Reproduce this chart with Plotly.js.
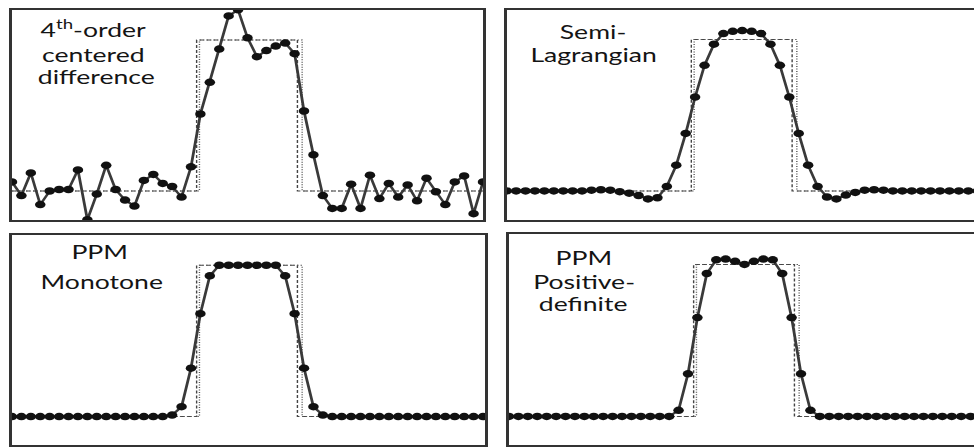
<!DOCTYPE html>
<html>
<head>
<meta charset="utf-8">
<script src="https://cdn.plot.ly/plotly-3.0.1.min.js"></script>
<style>
  html, body { margin: 0; padding: 0; background: #ffffff; overflow: hidden; }
  #wrap { width: 974px; height: 447px; overflow: hidden; }
  #chart { width: 696px; height: 447px; transform: scaleX(1.39943); transform-origin: 0 0; }
</style>
</head>
<body>
<div id="wrap"><div id="chart"></div></div>
<script>
// grid point index
const gridX = [0,1,2,3,4,5,6,7,8,9,10,11,12,13,14,15,16,17,18,19,20,21,22,23,24,25,26,27,28,29,30,31,32,33,34,35,36,37,38,39,40,41,42,43,44,45,46,47,48,49,50];

// 4th-order centered difference
const fourthOrder = [0.06,-0.03,0.12,-0.09,0.0,0.01,0.01,0.14,-0.19,-0.02,0.17,0.01,-0.06,-0.10,0.07,0.11,0.05,0.03,-0.04,0.16,
  0.51,0.72,0.94,1.16,1.20,1.015,0.89,0.93,0.96,0.98,0.91,0.53,0.24,-0.03,
  -0.115,-0.115,0.045,-0.115,0.105,-0.05,0.05,-0.04,0.04,-0.065,0.085,-0.005,-0.09,0.06,0.10,-0.15,0.06];

// Semi-Lagrangian
const semiLagrangian = [0,0,0,0,0,0,0,0,0,0.005,0.008,0.005,-0.005,-0.015,-0.03,-0.053,-0.045,0.03,0.17,0.38,
  0.62,0.83,0.97,1.04,1.055,1.06,1.055,1.04,0.97,0.83,0.62,0.38,0.17,0.03,-0.04,-0.053,-0.027,-0.01,0.005,0.008,
  0.005,0,0,0,0,0,0,0,0,0,0];

// PPM monotone
const ppmMonotone = [0,0,0,0,0,0,0,0,0,0,0,0,0,0,0,0,0,0.01,0.065,0.32,
  0.68,0.93,1.0,1.0,1.0,1.0,1.0,1.0,1.0,0.93,0.68,0.32,0.065,0.01,0,0,0,0,0,0,
  0,0,0,0,0,0,0,0,0,0,0];

// PPM positive-definite
const ppmPositive = [0,0,0,0,0,0,0,0,0,0,0,0,0,0,0,0,0,0,0.04,0.28,
  0.65,0.94,1.03,1.035,1.02,1.0,1.02,1.035,1.03,0.94,0.65,0.28,0.04,0,0,0,0,0,0,0,
  0,0,0,0,0,0,0,0,0,0,0];

// exact square wave (two renderings: dashed and dotted)
const stepXDashed = [0,19.6,19.6,30.3,30.3,50];
const stepXDotted = [0,19.9,19.9,30.8,30.8,50];
const stepY = [0,0,1,1,0,0];

const panelSeries = [fourthOrder, semiLagrangian, ppmMonotone, ppmPositive];

const W = 974, H = 447;
const px = v => v / W;
const py = v => 1 - v / H;

// panel boxes in pixels [left, right, top, bottom]
const boxes = [
  [12, 483, 10, 220],
  [506.7, 974, 9.5, 220],
  [12, 485, 235, 445],
  [509, 974, 234, 445]
];
const spacing = 9.42;
const yRanges = [[-0.192, 1.199],[-0.192, 1.199],[-0.188, 1.2],[-0.188, 1.2]];
const fullBox = [true, false, true, false];

const traces = [];
const layout = {
  width: 696, height: 447,
  margin: {l:0, r:0, t:0, b:0},
  paper_bgcolor: '#ffffff', plot_bgcolor: 'rgba(0,0,0,0)',
  showlegend: false,
  font: {family: 'Lato, "Open Sans", sans-serif', color: '#141414'},
  annotations: []
};

panelSeries.forEach((vals, k) => {
  const n = k + 1;
  const xa = 'x' + (n === 1 ? '' : n), ya = 'y' + (n === 1 ? '' : n);
  const b = boxes[k];
  traces.push({x: stepXDashed, y: stepY, xaxis: xa, yaxis: ya, mode: 'lines',
    line: {color: '#444', width: 1, dash: '3px,2px'}, hoverinfo: 'skip'});
  traces.push({x: stepXDotted, y: stepY, xaxis: xa, yaxis: ya, mode: 'lines',
    line: {color: '#555', width: 1, dash: '1px,1.5px'}, hoverinfo: 'skip'});
  traces.push({x: gridX, y: vals, xaxis: xa, yaxis: ya, mode: 'lines+markers',
    line: {color: '#3a3a3a', width: 2},
    marker: {color: '#111', size: 7.5}});
  const xkey = 'xaxis' + (n === 1 ? '' : n), ykey = 'yaxis' + (n === 1 ? '' : n);
  layout[xkey] = {
    domain: [px(b[0]), Math.min(1, px(b[1]))],
    range: [0, (b[1] - b[0]) / spacing],
    anchor: ya, showgrid: false, zeroline: false, showticklabels: false, ticks: '',
    showline: true, mirror: true, linecolor: '#333', linewidth: 2
  };
  layout[ykey] = {
    domain: [py(b[3]), py(b[2])],
    range: yRanges[k],
    anchor: xa, showgrid: false, zeroline: false, showticklabels: false, ticks: '',
    showline: true, mirror: fullBox[k], linecolor: '#333', linewidth: 2
  };
});

const labels = [
  ['4<sup>th</sup>-order', 92.5, 28.5],
  ['centered', 93.7, 55],
  ['difference', 96.7, 76.5],
  ['Semi-', 594, 31.5],
  ['Lagrangian', 593, 54.7],
  ['PPM', 99, 251.3],
  ['Monotone', 101.7, 281.7],
  ['PPM', 584, 257],
  ['Positive-', 584, 281.3],
  ['definite', 583.3, 303]
];
labels.forEach(l => {
  layout.annotations.push({
    text: l[0], x: px(l[1]), y: py(l[2]), xref: 'paper', yref: 'paper',
    xanchor: 'center', yanchor: 'middle', showarrow: false,
    font: {size: 19, family: 'Lato, "Open Sans", sans-serif', color: '#141414'}
  });
});

Plotly.newPlot('chart', traces, layout, {staticPlot: true, displayModeBar: false});
</script>
</body>
</html>
